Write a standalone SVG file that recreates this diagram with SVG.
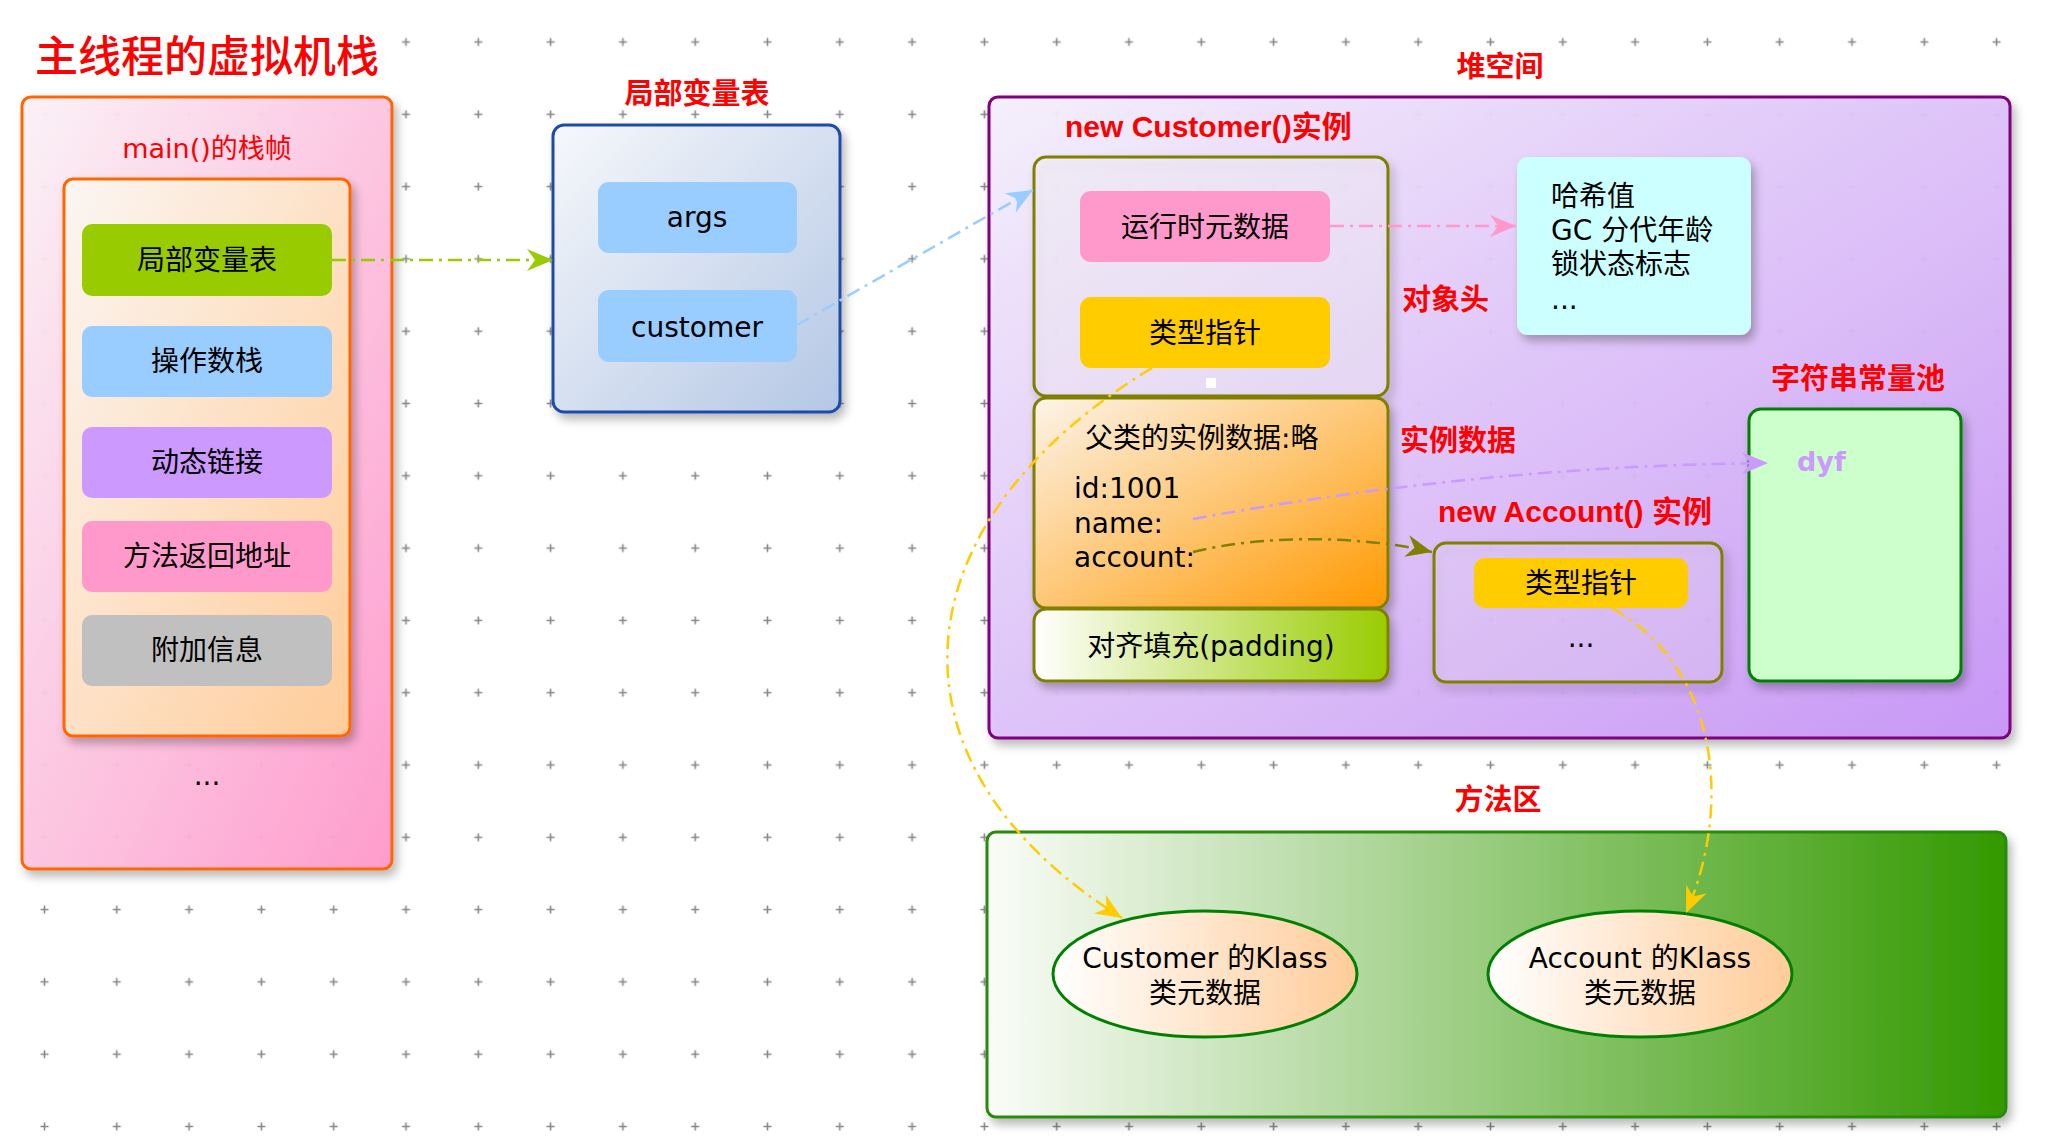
<svg xmlns="http://www.w3.org/2000/svg" width="2048" height="1144" viewBox="0 0 2048 1144">
<defs>
<style>
.t{font-family:"DejaVu Sans","Noto Sans CJK SC",sans-serif;font-size:28px;fill:#000}
.c{text-anchor:middle}
.r{font-family:"Liberation Sans","Noto Sans CJK SC",sans-serif;font-weight:bold;font-size:29px;fill:#FF0000}
.ln{fill:none;stroke-width:2.5;stroke-dasharray:14,6,3,6}
.box{stroke-width:3}
</style>
<pattern id="grid" patternUnits="userSpaceOnUse" x="8.35" y="5.85" width="72.3" height="72.3"><path d="M32.15,36.15h8M36.15,32.15v8" stroke="#888" stroke-width="1.6"/></pattern>
<filter id="sh" x="-10%" y="-10%" width="130%" height="130%"><feDropShadow dx="4" dy="6" stdDeviation="5" flood-color="#000" flood-opacity="0.28"/></filter>
<linearGradient id="gStack" x1="0" y1="0" x2="1" y2="1"><stop offset="0" stop-color="#FCF2F7"/><stop offset="1" stop-color="#FF99CC"/></linearGradient>
<linearGradient id="gFrame" x1="0" y1="0" x2="1" y2="1"><stop offset="0" stop-color="#FBF6F3"/><stop offset="1" stop-color="#FFCC99"/></linearGradient>
<linearGradient id="gLocal" x1="0" y1="0" x2="1" y2="1"><stop offset="0" stop-color="#F6F8FB"/><stop offset="1" stop-color="#B4C7E5"/></linearGradient>
<linearGradient id="gHeap" x1="0" y1="0" x2="1" y2="1"><stop offset="0" stop-color="#F5F0FC"/><stop offset="1" stop-color="#C794F6"/></linearGradient>
<linearGradient id="gInst" x1="0" y1="0" x2="1" y2="1"><stop offset="0" stop-color="#FCF4EA"/><stop offset="1" stop-color="#FF9900"/></linearGradient>
<linearGradient id="gPad" x1="0" y1="0" x2="1" y2="0"><stop offset="0" stop-color="#FFFFFF"/><stop offset="1" stop-color="#99CC00"/></linearGradient>
<linearGradient id="gMethod" x1="0" y1="0" x2="1" y2="0"><stop offset="0" stop-color="#FAFCF8"/><stop offset="1" stop-color="#339900"/></linearGradient>
<linearGradient id="gEll" x1="0" y1="0" x2="1" y2="0"><stop offset="0" stop-color="#FFFFFF"/><stop offset="1" stop-color="#FFCC99"/></linearGradient>
<marker id="aGreen" viewBox="0 0 26 22" refX="26" refY="11" markerWidth="26" markerHeight="22" markerUnits="userSpaceOnUse" orient="auto"><path d="M0,0 L26,11 L0,22 L8,11Z" fill="#99CC00"/></marker>
<marker id="aBlue" viewBox="0 0 26 22" refX="26" refY="11" markerWidth="26" markerHeight="22" markerUnits="userSpaceOnUse" orient="auto"><path d="M0,0 L26,11 L0,22 L8,11Z" fill="#99CCFF"/></marker>
<marker id="aPink" viewBox="0 0 26 22" refX="26" refY="11" markerWidth="26" markerHeight="22" markerUnits="userSpaceOnUse" orient="auto"><path d="M0,0 L26,11 L0,22 L8,11Z" fill="#FF99CC"/></marker>
<marker id="aPurple" viewBox="0 0 26 22" refX="26" refY="11" markerWidth="26" markerHeight="22" markerUnits="userSpaceOnUse" orient="auto"><path d="M0,0 L26,11 L0,22 L8,11Z" fill="#CC99FF"/></marker>
<marker id="aOlive" viewBox="0 0 26 22" refX="26" refY="11" markerWidth="26" markerHeight="22" markerUnits="userSpaceOnUse" orient="auto"><path d="M0,0 L26,11 L0,22 L8,11Z" fill="#808000"/></marker>
<marker id="aYellow" viewBox="0 0 26 22" refX="26" refY="11" markerWidth="26" markerHeight="22" markerUnits="userSpaceOnUse" orient="auto"><path d="M0,0 L26,11 L0,22 L8,11Z" fill="#FFCC00"/></marker>
</defs>

<rect x="0" y="0" width="2048" height="1144" fill="#FFFFFF"/>
<rect x="0" y="0" width="2048" height="1144" fill="url(#grid)"/>

<g id="title">
<rect x="0" y="0" width="395" height="92" fill="#FFFFFF"/>
<text x="35" y="72" style="font-family:'Noto Sans CJK SC',sans-serif;font-weight:500;font-size:43px;fill:#FF0000">主线程的虚拟机栈</text>
</g>

<g id="stack">
<rect x="22" y="97" width="370" height="772" rx="9" fill="url(#gStack)" fill-opacity="0.95" stroke="#FF6600" class="box" filter="url(#sh)"/>
<text x="207" y="158" class="c" style="font-family:'DejaVu Sans','Noto Sans CJK SC',sans-serif;font-size:27px;fill:#FF0000">main()的栈帧</text>
<text x="207" y="785" class="t c">...</text>
</g>

<g id="frame">
<rect x="64" y="179" width="286" height="557" rx="9" fill="url(#gFrame)" stroke="#FF6600" class="box" filter="url(#sh)"/>
</g>
<g id="item-local">
<rect x="82" y="224" width="250" height="72" rx="10" fill="#99CC00"/>
<text x="207" y="270" class="t c">局部变量表</text>
</g>
<g id="item-operand">
<rect x="82" y="326" width="250" height="71" rx="10" fill="#99CCFF"/>
<text x="207" y="371" class="t c">操作数栈</text>
</g>
<g id="item-dynamic">
<rect x="82" y="427" width="250" height="71" rx="10" fill="#CC99FF"/>
<text x="207" y="472" class="t c">动态链接</text>
</g>
<g id="item-return">
<rect x="82" y="521" width="250" height="71" rx="10" fill="#FF99CC"/>
<text x="207" y="566" class="t c">方法返回地址</text>
</g>
<g id="item-extra">
<rect x="82" y="615" width="250" height="71" rx="10" fill="#C0C0C0"/>
<text x="207" y="660" class="t c">附加信息</text>
</g>

<g id="localvars">
<text x="697" y="104" class="r c">局部变量表</text>
<rect x="553" y="125" width="287" height="287" rx="11" fill="url(#gLocal)" stroke="#1E4BA8" class="box" filter="url(#sh)"/>
</g>
<g id="var-args">
<rect x="598" y="182" width="199" height="71" rx="11" fill="#99CCFF"/>
<text x="697" y="227" class="t c">args</text>
</g>
<g id="var-customer">
<rect x="598" y="290" width="199" height="72" rx="11" fill="#99CCFF"/>
<text x="697" y="337" class="t c">customer</text>
</g>

<g id="heap">
<text x="1500" y="77" class="r c">堆空间</text>
<rect x="989" y="97" width="1021" height="641" rx="9" fill="url(#gHeap)" fill-opacity="0.95" stroke="#800080" class="box" filter="url(#sh)"/>
</g>

<g id="customer-instance">
<text x="1065" y="137" class="r" style="font-size:30px">new Customer()实例</text>
</g>
<g id="object-header">
<rect x="1034" y="157" width="354" height="239" rx="12" fill="#FFFFFF" fill-opacity="0.3" stroke="#808000" class="box" filter="url(#sh)"/>
<text x="1402" y="310" class="r">对象头</text>
<rect x="1206" y="378" width="10" height="10" fill="#FFFFFF"/>
</g>
<g id="runtime-meta">
<rect x="1080" y="191" width="250" height="71" rx="11" fill="#FF99CC"/>
<text x="1205" y="237" class="t c">运行时元数据</text>
</g>
<g id="type-pointer-1">
<rect x="1080" y="297" width="250" height="71" rx="11" fill="#FFCC00"/>
<text x="1205" y="343" class="t c">类型指针</text>
</g>
<g id="instance-data">
<rect x="1034" y="398" width="354" height="210" rx="12" fill="url(#gInst)" stroke="#808000" class="box" filter="url(#sh)"/>
<text x="1085" y="448" class="t">父类的实例数据:略</text>
<text x="1074" y="498" class="t">id:1001</text>
<text x="1074" y="533" class="t">name:</text>
<text x="1074" y="567" class="t">account:</text>
<text x="1400" y="451" class="r">实例数据</text>
</g>
<g id="padding">
<rect x="1034" y="609" width="354" height="72" rx="12" fill="url(#gPad)" stroke="#808000" class="box" filter="url(#sh)"/>
<text x="1211" y="656" class="t c">对齐填充(padding)</text>
</g>

<g id="mark-word">
<rect x="1517" y="157" width="234" height="178" rx="11" fill="#CCFFFF" filter="url(#sh)"/>
<text x="1551" y="206" class="t">哈希值</text>
<text x="1551" y="240" class="t">GC 分代年龄</text>
<text x="1551" y="274" class="t">锁状态标志</text>
<text x="1551" y="309" class="t">...</text>
</g>

<g id="string-pool">
<text x="1858" y="389" class="r c">字符串常量池</text>
<rect x="1749" y="409" width="212" height="272" rx="12" fill="#CCFFCC" stroke="#008000" class="box" filter="url(#sh)"/>
<text x="1797" y="471" style="font-family:'DejaVu Sans',sans-serif;font-weight:bold;font-size:27px;fill:#CC99FF">dyf</text>
</g>

<g id="account-instance">
<text x="1438" y="522" class="r" style="font-size:30px">new Account() 实例</text>
<rect x="1434" y="543" width="288" height="139" rx="12" fill="#FFFFFF" fill-opacity="0.15" stroke="#808000" class="box" filter="url(#sh)"/>
<text x="1581" y="647" class="t c">...</text>
</g>
<g id="type-pointer-2">
<rect x="1474" y="558" width="214" height="50" rx="11" fill="#FFCC00"/>
<text x="1581" y="593" class="t c">类型指针</text>
</g>

<g id="method-area">
<text x="1498" y="810" class="r c">方法区</text>
<rect x="987" y="832" width="1019" height="285" rx="9" fill="url(#gMethod)" stroke="#2A8A10" class="box" filter="url(#sh)"/>
</g>
<g id="customer-klass">
<ellipse cx="1205" cy="974" rx="152" ry="63" fill="url(#gEll)" stroke="#008000" stroke-width="3"/>
<text x="1205" y="968" class="t c">Customer 的Klass</text>
<text x="1205" y="1003" class="t c">类元数据</text>
</g>
<g id="account-klass">
<ellipse cx="1640" cy="974" rx="152" ry="63" fill="url(#gEll)" stroke="#008000" stroke-width="3"/>
<text x="1640" y="968" class="t c">Account 的Klass</text>
<text x="1640" y="1003" class="t c">类元数据</text>
</g>

<g id="connectors">
<path d="M332,260 L553,260" class="ln" stroke="#99CC00" marker-end="url(#aGreen)"/>
<path d="M797,325 L1033,190" class="ln" stroke="#99CCFF" marker-end="url(#aBlue)"/>
<path d="M1330,226 L1516,226" class="ln" stroke="#FF99CC" marker-end="url(#aPink)"/>
<path d="M1193,519 C1350,490 1550,465 1768,463" class="ln" stroke="#CC99FF" marker-end="url(#aPurple)"/>
<path d="M1193,552 C1260,535 1360,535 1432,552" class="ln" stroke="#808000" marker-end="url(#aOlive)"/>
<path d="M1152,368 C900,520 870,760 1122,918" class="ln" stroke="#FFCC00" marker-end="url(#aYellow)"/>
<path d="M1612,608 C1715,665 1735,800 1686,913" class="ln" stroke="#FFCC00" marker-end="url(#aYellow)"/>
</g>
</svg>
